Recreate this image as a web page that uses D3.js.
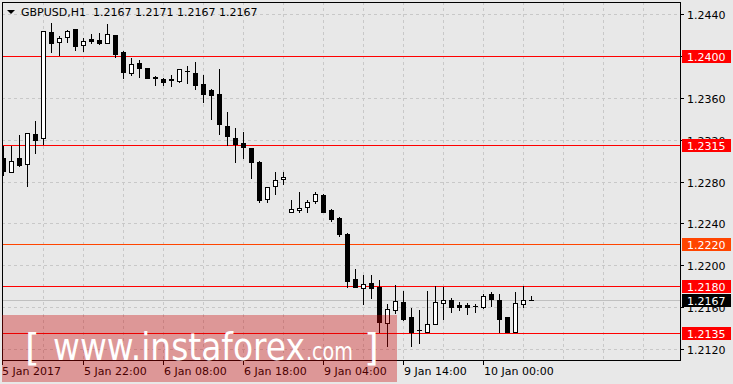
<!DOCTYPE html>
<html lang="en">
<head>
  <meta charset="UTF-8">
  <title>GBPUSD H1</title>
  <script src="https://d3js.org/d3.v7.min.js"></script>
  <style>
    body { margin: 0; background: #e8e8e8; }
    svg { display: block; }
    text { font-family: "DejaVu Sans", sans-serif; font-size: 11px; }
  </style>
</head>
<body>
  <script>
    // H1 bars, 5 Jan 12:00 .. 10 Jan 06:00
    const opens  = [1.2302,1.2289,1.2302,1.2297,1.2325,1.2322,1.2423,1.2413,1.2418,1.2426,
                    1.2410,1.2416,1.2415,1.2412,1.2420,1.2404,1.2384,1.2393,1.2388,1.2380,
                    1.2378,1.2378,1.2376,1.2386,1.2384,1.2373,1.2367,1.2364,1.2333,1.2322,
                    1.2317,1.2312,1.2299,1.2263,1.2276,1.2282,1.2251,1.2253,1.2256,1.2261,
                    1.2267,1.2253,1.2245,1.2230,1.2187,1.2178,1.2183,1.2179,1.2145,1.2157,
                    1.2165,1.2151,1.2138,1.2136,1.2144,1.2164,1.2167,1.2162,1.2162,1.2161,
                    1.2160,1.2173,1.2167,1.2151,1.2136,1.2163,1.2167];
    const highs  = [1.2314,1.2314,1.2324,1.2326,1.2338,1.2424,1.2431,1.2419,1.2425,1.2426,
                    1.2417,1.2421,1.2422,1.2430,1.2420,1.2405,1.2398,1.2396,1.2388,1.2381,
                    1.2379,1.2382,1.2387,1.2390,1.2394,1.2382,1.2368,1.2387,1.2346,1.2331,
                    1.2327,1.2312,1.2300,1.2275,1.2289,1.2289,1.2262,1.2270,1.2262,1.2270,
                    1.2268,1.2254,1.2246,1.2231,1.2196,1.2191,1.2191,1.2186,1.2163,1.2181,
                    1.2175,1.2159,1.2157,1.2175,1.2180,1.2179,1.2169,1.2165,1.2164,1.2163,
                    1.2173,1.2174,1.2173,1.2151,1.2174,1.2180,1.2171];
    const lows   = [1.2286,1.2289,1.2295,1.2276,1.2307,1.2316,1.2404,1.2401,1.2413,1.2406,
                    1.2405,1.2412,1.2411,1.2412,1.2399,1.2379,1.2382,1.2380,1.2379,1.2372,
                    1.2372,1.2371,1.2375,1.2374,1.2368,1.2356,1.2340,1.2325,1.2315,1.2299,
                    1.2302,1.2283,1.2260,1.2260,1.2268,1.2278,1.2251,1.2251,1.2251,1.2259,
                    1.2251,1.2242,1.2228,1.2179,1.2179,1.2163,1.2169,1.2136,1.2123,1.2154,
                    1.2148,1.2123,1.2126,1.2136,1.2144,1.2149,1.2155,1.2157,1.2153,1.2155,
                    1.2159,1.2161,1.2136,1.2136,1.2136,1.2160,1.2167];
    const closes = [1.2290,1.2300,1.2296,1.2326,1.2320,1.2424,1.2412,1.2417,1.2424,1.2409,
                    1.2414,1.2414,1.2412,1.2421,1.2402,1.2385,1.2392,1.2388,1.2379,1.2379,
                    1.2375,1.2377,1.2387,1.2386,1.2372,1.2364,1.2363,1.2335,1.2323,1.2316,
                    1.2313,1.2299,1.2262,1.2275,1.2281,1.2284,1.2254,1.2255,1.2260,1.2268,
                    1.2251,1.2244,1.2230,1.2185,1.2179,1.2182,1.2178,1.2146,1.2158,1.2166,
                    1.2149,1.2136,1.2138,1.2144,1.2165,1.2167,1.2160,1.2160,1.2160,1.2161,
                    1.2171,1.2168,1.2149,1.2136,1.2164,1.2167,1.2167];

    const timeTickBars = [0, 10, 20, 30, 40, 50, 60];
    const timeTickLabels = ["5 Jan 2017", "5 Jan 22:00", "6 Jan 08:00", "6 Jan 18:00",
                            "9 Jan 04:00", "9 Jan 14:00", "10 Jan 00:00"];
    const priceTicks = [1.2120, 1.2160, 1.2200, 1.2240, 1.2280, 1.2320, 1.2360, 1.2400, 1.2440];

    const levels = [1.2400, 1.2315, 1.2220, 1.2180, 1.2135];
    const levelColors = ["#ff0000", "#ff0000", "#ff4500", "#ff0000", "#ff0000"];
    const lastPrice = 1.2167;

    const W = 733, H = 384;
    const plot = { left: 2, right: 680, top: 2, bottom: 360 };

    const x = d3.scaleLinear().domain([0, 84.625]).range([3, 680]);
    const y = d3.scaleLinear().domain([1.2120, 1.2440]).range([349, 14]);
    const px = i => Math.round(x(i));
    const py = v => Math.round(y(v));

    const svg = d3.select("body").append("svg")
        .attr("width", W)
        .attr("height", H);

    svg.append("rect").attr("width", W).attr("height", H).attr("fill", "#e8e8e8");

    svg.append("clipPath").attr("id", "clip")
      .append("rect")
        .attr("x", plot.left).attr("y", plot.top)
        .attr("width", plot.right - plot.left).attr("height", plot.bottom - plot.top);

    // grid
    const grid = svg.append("g")
        .attr("stroke", "#c8c8c8")
        .attr("stroke-dasharray", "3,3")
        .attr("shape-rendering", "crispEdges");
    grid.selectAll("line.h")
      .data(priceTicks)
      .join("line")
        .attr("class", "h")
        .attr("x1", plot.left).attr("x2", plot.right)
        .attr("y1", d => py(d) + 0.5).attr("y2", d => py(d) + 0.5);
    grid.selectAll("line.v")
      .data(d3.range(5, 85, 5))
      .join("line")
        .attr("class", "v")
        .attr("x1", d => px(d) + 0.5).attr("x2", d => px(d) + 0.5)
        .attr("y1", plot.top).attr("y2", plot.bottom);

    // bid line
    svg.append("line")
        .attr("x1", plot.left).attr("x2", plot.right)
        .attr("y1", py(lastPrice) + 0.5).attr("y2", py(lastPrice) + 0.5)
        .attr("stroke", "#c0c0c0")
        .attr("shape-rendering", "crispEdges");

    // horizontal levels
    svg.selectAll("line.level")
      .data(levels)
      .join("line")
        .attr("class", "level")
        .attr("x1", plot.left).attr("x2", plot.right)
        .attr("y1", d => py(d) + 0.5).attr("y2", d => py(d) + 0.5)
        .attr("stroke", (d, i) => levelColors[i])
        .attr("shape-rendering", "crispEdges");

    // candles
    const bars = d3.range(opens.length).map(i => ({
      i, o: opens[i], h: highs[i], l: lows[i], c: closes[i]
    }));

    const candles = svg.append("g")
        .attr("clip-path", "url(#clip)")
        .attr("shape-rendering", "crispEdges");

    const g = candles.selectAll("g")
      .data(bars)
      .join("g");

    g.append("line")
        .attr("x1", d => px(d.i) + 0.5).attr("x2", d => px(d.i) + 0.5)
        .attr("y1", d => py(d.h)).attr("y2", d => py(d.l) + 1)
        .attr("stroke", "#000");

    g.filter(d => py(d.o) !== py(d.c))
      .append("rect")
        .attr("x", d => px(d.i) - 1.5)
        .attr("y", d => Math.min(py(d.o), py(d.c)) + 0.5)
        .attr("width", 4)
        .attr("height", d => Math.abs(py(d.o) - py(d.c)))
        .attr("fill", d => d.c > d.o ? "#fff" : "#000")
        .attr("stroke", "#000");

    g.filter(d => py(d.o) === py(d.c))
      .append("line")
        .attr("x1", d => px(d.i) - 2).attr("x2", d => px(d.i) + 3)
        .attr("y1", d => py(d.o) + 0.5).attr("y2", d => py(d.o) + 0.5)
        .attr("stroke", "#000");

    // plot frame
    svg.append("rect")
        .attr("x", plot.left + 0.5).attr("y", plot.top + 0.5)
        .attr("width", plot.right - plot.left).attr("height", plot.bottom - plot.top)
        .attr("fill", "none")
        .attr("stroke", "#000")
        .attr("shape-rendering", "crispEdges");

    // price axis
    const yAxis = svg.append("g");
    yAxis.selectAll("line")
      .data(priceTicks)
      .join("line")
        .attr("x1", plot.right).attr("x2", plot.right + 4)
        .attr("y1", d => py(d) + 0.5).attr("y2", d => py(d) + 0.5)
        .attr("stroke", "#000")
        .attr("shape-rendering", "crispEdges");
    yAxis.selectAll("text")
      .data(priceTicks)
      .join("text")
        .attr("x", 687)
        .attr("y", d => py(d) + 4.5)
        .attr("fill", "#000")
        .text(d => d3.format(".4f")(d));

    // level tags
    const tags = levels.map((v, i) => ({ v, fill: levelColors[i] }))
      .concat([{ v: lastPrice, fill: "#000" }]);
    const tag = svg.selectAll("g.tag")
      .data(tags)
      .join("g")
        .attr("class", "tag");
    tag.append("rect")
        .attr("x", 682).attr("y", d => py(d.v) - 6)
        .attr("width", 49).attr("height", 13)
        .attr("fill", d => d.fill);
    tag.append("text")
        .attr("x", 687).attr("y", d => py(d.v) + 4.5)
        .attr("fill", "#fff")
        .text(d => d3.format(".4f")(d.v));

    // time axis
    const xAxis = svg.append("g");
    xAxis.selectAll("line")
      .data(timeTickBars)
      .join("line")
        .attr("x1", d => px(d) + 0.5 - (d === 0 ? 1 : 0)).attr("x2", d => px(d) + 0.5 - (d === 0 ? 1 : 0))
        .attr("y1", plot.bottom).attr("y2", plot.bottom + 5)
        .attr("stroke", "#000")
        .attr("shape-rendering", "crispEdges");
    xAxis.selectAll("text")
      .data(timeTickBars)
      .join("text")
        .attr("x", d => d === 0 ? 2 : px(d) + 1)
        .attr("y", 375)
        .attr("fill", "#000")
        .text((d, i) => timeTickLabels[i]);

    // title
    svg.append("path")
        .attr("d", "M7,10 L15,10 L11,14 Z")
        .attr("fill", "#000");
    svg.append("text")
        .attr("x", 21).attr("y", 16)
        .attr("fill", "#000")
        .style("white-space", "pre")
        .text("GBPUSD,H1  1.2167 1.2171 1.2167 1.2167");

    // watermark
    svg.append("rect")
        .attr("x", 2).attr("y", 315)
        .attr("width", 395).attr("height", 67)
        .attr("fill", "rgba(200,0,0,0.35)");
    const wm = svg.append("g")
        .attr("fill", "#fff")
        .style("font-family", "'Liberation Sans', Arial, sans-serif");
    wm.append("text").attr("x", 25).attr("y", 360).style("font-size", "38px").text("[");
    wm.append("text").attr("x", 53).attr("y", 360).style("font-size", "37px")
        .attr("textLength", 252).attr("lengthAdjust", "spacingAndGlyphs").text("www.instaforex");
    wm.append("text").attr("x", 306).attr("y", 360).style("font-size", "25px")
        .attr("textLength", 47).attr("lengthAdjust", "spacingAndGlyphs").text(".com");
    wm.append("text").attr("x", 364).attr("y", 360).style("font-size", "38px").text("]");
  </script>
</body>
</html>
